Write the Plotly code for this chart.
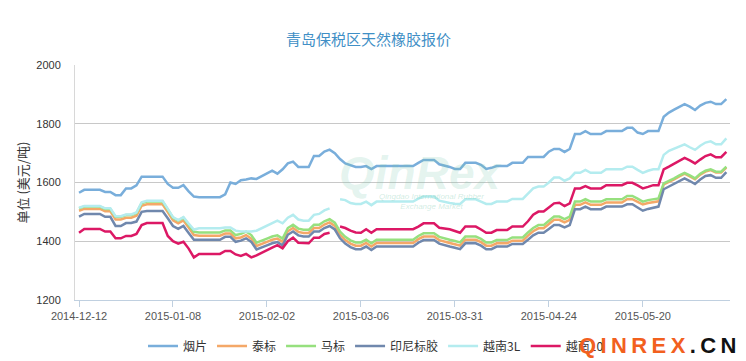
import plotly.graph_objects as go

# ---------------- data ----------------
tick_labels = ["2014-12-12", "2015-01-08", "2015-02-02", "2015-03-06",
               "2015-03-31", "2015-04-24", "2015-05-20"]
tick_step = 18  # categories between labelled ticks

series_names = ["烟片", "泰标", "马标", "印尼标胶", "越南3L", "越南10"]

yanpian = [1565, 1575, 1575, 1575, 1575, 1568, 1568, 1557, 1557, 1580,
           1580, 1590, 1620, 1620, 1620, 1620, 1620, 1595, 1582, 1582,
           1591, 1570, 1552, 1550, 1550, 1550, 1550, 1550, 1560, 1600,
           1595, 1608, 1610, 1614, 1612, 1622, 1632, 1640, 1630, 1645,
           1665, 1671, 1653, 1653, 1653, 1690, 1690, 1705, 1712, 1700,
           1680, 1665, 1658, 1653, 1653, 1656, 1646, 1656, 1656, 1656,
           1656, 1656, 1656, 1656, 1656, 1667, 1677, 1677, 1677, 1662,
           1658, 1653, 1646, 1646, 1667, 1667, 1667, 1660, 1646, 1650,
           1656, 1656, 1656, 1667, 1667, 1667, 1687, 1687, 1687, 1687,
           1705, 1714, 1714, 1704, 1714, 1765, 1765, 1775, 1765, 1765,
           1765, 1775, 1775, 1775, 1775, 1786, 1786, 1770, 1765, 1775,
           1775, 1775, 1824, 1838, 1848, 1858, 1867, 1858, 1847, 1862,
           1871, 1875, 1867, 1867, 1884]

taibiao = [1504, 1510, 1510, 1510, 1510, 1502, 1502, 1474, 1474, 1480,
           1480, 1487, 1521, 1526, 1526, 1526, 1526, 1499, 1471, 1461,
           1471, 1447, 1421, 1419, 1419, 1419, 1419, 1419, 1426, 1426,
           1410, 1413, 1421, 1409, 1384, 1390, 1398, 1405, 1409, 1398,
           1434, 1445, 1432, 1428, 1428, 1445, 1445, 1457, 1464, 1452,
           1422, 1404, 1392, 1385, 1385, 1394, 1382, 1394, 1394, 1394,
           1394, 1394, 1394, 1394, 1394, 1407, 1416, 1416, 1416, 1404,
           1398, 1394, 1390, 1385, 1405, 1405, 1405, 1397, 1385, 1385,
           1393, 1393, 1393, 1402, 1402, 1402, 1419, 1434, 1444, 1444,
           1459, 1473, 1473, 1464, 1473, 1524, 1524, 1532, 1524, 1524,
           1524, 1532, 1532, 1532, 1532, 1543, 1543, 1534, 1525, 1530,
           1533, 1536, 1594, 1602, 1611, 1621, 1630, 1621, 1611, 1627,
           1637, 1642, 1634, 1634, 1651]

mabiao = [1512, 1518, 1518, 1518, 1518, 1510, 1510, 1483, 1483, 1489,
          1489, 1496, 1530, 1535, 1535, 1535, 1535, 1508, 1480, 1470,
          1480, 1456, 1432, 1430, 1430, 1430, 1430, 1430, 1437, 1437,
          1421, 1425, 1433, 1421, 1395, 1401, 1409, 1416, 1420, 1409,
          1445, 1456, 1443, 1439, 1439, 1456, 1456, 1468, 1475, 1463,
          1433, 1415, 1403, 1396, 1396, 1405, 1393, 1405, 1405, 1405,
          1405, 1405, 1405, 1405, 1405, 1418, 1427, 1427, 1427, 1415,
          1409, 1405, 1401, 1396, 1416, 1416, 1416, 1408, 1396, 1396,
          1404, 1404, 1404, 1413, 1413, 1413, 1430, 1445, 1455, 1455,
          1470, 1484, 1484, 1475, 1484, 1535, 1535, 1543, 1535, 1535,
          1535, 1543, 1543, 1543, 1543, 1554, 1554, 1545, 1535, 1540,
          1543, 1546, 1597, 1605, 1614, 1624, 1633, 1624, 1614, 1630,
          1640, 1645, 1637, 1637, 1654]

yinni = [1484, 1493, 1493, 1493, 1493, 1483, 1483, 1452, 1452, 1462,
         1462, 1467, 1500, 1503, 1503, 1503, 1503, 1478, 1452, 1442,
         1452, 1428, 1405, 1405, 1405, 1405, 1405, 1405, 1415, 1415,
         1398, 1402, 1410, 1398, 1372, 1378, 1386, 1393, 1397, 1386,
         1422, 1433, 1420, 1416, 1416, 1433, 1433, 1445, 1452, 1440,
         1410, 1392, 1380, 1373, 1373, 1382, 1370, 1382, 1382, 1382,
         1382, 1382, 1382, 1382, 1382, 1395, 1404, 1404, 1404, 1392,
         1386, 1382, 1378, 1373, 1393, 1393, 1393, 1385, 1373, 1373,
         1382, 1382, 1382, 1391, 1391, 1391, 1405, 1420, 1429, 1429,
         1442, 1455, 1455, 1447, 1455, 1509, 1509, 1518, 1509, 1509,
         1509, 1518, 1518, 1518, 1518, 1526, 1526, 1515, 1504, 1510,
         1515, 1518, 1577, 1586, 1595, 1605, 1614, 1605, 1595, 1610,
         1622, 1625, 1616, 1616, 1635]

yuenan3l = [1514, 1520, 1520, 1520, 1520, 1512, 1512, 1485, 1485, 1491,
            1491, 1498, 1533, 1538, 1538, 1538, 1538, 1510, 1482, 1472,
            1482, 1460, 1440, 1444, 1444, 1444, 1444, 1444, 1447, 1447,
            1436, 1433, 1433, 1433, 1436, 1444, 1452, 1461, 1470, 1461,
            1480, 1490, 1474, 1470, 1470, 1490, 1493, 1505, 1512, None,
            1543, 1540, 1530, 1527, 1527, 1535, 1523, 1535, 1535, 1535,
            1535, 1535, 1535, 1535, 1535, 1545, 1552, 1552, 1552, 1538,
            1533, 1530, 1528, 1527, 1543, 1543, 1543, 1535, 1527, 1527,
            1535, 1535, 1535, 1544, 1544, 1544, 1562, 1580, 1586, 1586,
            1600, 1617, 1617, 1606, 1614, 1633, 1633, 1643, 1633, 1633,
            1633, 1645, 1645, 1645, 1645, 1654, 1654, 1643, 1633, 1640,
            1645, 1645, 1694, 1708, 1716, 1724, 1730, 1720, 1711, 1725,
            1736, 1740, 1730, 1730, 1750]

yuenan10 = [1429, 1442, 1442, 1442, 1442, 1433, 1433, 1410, 1410, 1418,
            1418, 1425, 1455, 1462, 1462, 1462, 1462, 1418, 1400, 1392,
            1398, 1375, 1345, 1357, 1357, 1357, 1357, 1357, 1367, 1367,
            1355, 1350, 1357, 1345, 1352, 1360, 1368, 1378, 1387, 1376,
            1400, 1412, 1395, 1393, 1393, 1412, 1412, 1425, 1429, None,
            1450, 1445, 1436, 1430, 1429, 1441, 1429, 1441, 1441, 1441,
            1441, 1441, 1441, 1441, 1441, 1450, 1461, 1461, 1461, 1446,
            1443, 1441, 1435, 1429, 1450, 1450, 1450, 1440, 1429, 1429,
            1438, 1438, 1438, 1450, 1450, 1450, 1468, 1490, 1501, 1501,
            1515, 1529, 1531, 1520, 1529, 1580, 1580, 1588, 1580, 1580,
            1580, 1591, 1591, 1591, 1591, 1599, 1599, 1590, 1580, 1585,
            1591, 1591, 1645, 1654, 1664, 1674, 1684, 1675, 1665, 1678,
            1690, 1696, 1686, 1686, 1704]

y_ticks = [1200, 1400, 1600, 1800, 2000]

# ---------------- figure ----------------
colors = ["#79aedb", "#f4a868", "#96e07e", "#7088ad", "#b4ecef", "#dc1865"]
all_series = [yanpian, taibiao, mabiao, yinni, yuenan3l, yuenan10]
x = list(range(len(yanpian)))

cjk = "Noto Sans CJK SC, Microsoft YaHei, sans-serif"
latin = "Liberation Sans, Arial, sans-serif"

fig = go.Figure()
for name, vals, col in zip(series_names, all_series, colors):
    fig.add_trace(go.Scatter(
        x=x, y=vals, name=name, mode="lines",
        line=dict(color=col, width=2.5, shape="linear"),
        connectgaps=False,
    ))

# faint centre watermark
fig.add_annotation(text="<b><i>QinRex</i></b>", xref="paper", yref="paper",
                   x=0.528, y=0.54, showarrow=False,
                   font=dict(family=latin, size=46, color="rgba(120,200,170,0.20)"))
fig.add_annotation(text="<i>Qingdao International Rubber<br>Exchange Market</i>",
                   xref="paper", yref="paper", x=0.545, y=0.42, showarrow=False,
                   font=dict(family=latin, size=8, color="rgba(120,200,170,0.35)"))

# y-axis title
fig.add_annotation(text="单位 (美元/吨)", xref="paper", yref="paper",
                   x=(22 - 75) / 655, y=0.5, textangle=-90, showarrow=False,
                   xanchor="center", yanchor="middle",
                   font=dict(family=cjk, size=13, color="#333333"))

# bottom-right brand watermark
fig.add_annotation(
    text="<b><span style='color:#f2601e'>Q\u2009I\u2009N\u2009R\u2009E\u2009X</span>"
         "<span style='color:#111111'>\u2009.\u2009C\u2009N</span></b>",
    xref="paper", yref="paper", x=(657 - 75) / 655, y=(300 - 345) / 235,
    xanchor="center", yanchor="middle", showarrow=False,
    font=dict(family="Liberation Sans, Arial", size=22))

fig.update_layout(
    width=746, height=361,
    paper_bgcolor="white", plot_bgcolor="white",
    margin=dict(l=75, r=16, t=65, b=61),
    title=dict(text="青岛保税区天然橡胶报价", x=0.494, xanchor="center",
               y=1 - 40 / 361, yanchor="middle",
               font=dict(family=cjk, size=15, color="#3f8fc6")),
    showlegend=True,
    legend=dict(orientation="h", xref="container", yref="container",
                x=143 / 746, xanchor="left", y=1 - 346 / 361, yanchor="middle",
                font=dict(family=cjk, size=12, color="#333333"),
                itemwidth=30, bgcolor="rgba(0,0,0,0)"),
    xaxis=dict(
        range=[-0.77, len(yanpian) - 0.3],
        tickmode="array",
        tickvals=[i * tick_step for i in range(len(tick_labels))],
        ticktext=tick_labels,
        ticks="outside", ticklen=6, tickcolor="#c0d0e0",
        showgrid=False, zeroline=False,
        showline=True, linecolor="#c0d0e0", linewidth=1,
        tickfont=dict(family=latin, size=11, color="#555555"),
        automargin=False,
    ),
    yaxis=dict(
        range=[1200, 2000],
        tickmode="array", tickvals=y_ticks,
        showgrid=True, gridcolor="#c8c8c8", gridwidth=1,
        zeroline=False,
        showline=True, linecolor="#d8d8d8", linewidth=1,
        ticks="", ticklabelstandoff=11,
        tickfont=dict(family=latin, size=11, color="#333333"),
        automargin=False,
    ),
)

fig.write_html(
    "out.html",
    config={"displayModeBar": False},
    post_script="document.body.style.margin='0';document.body.style.overflow='hidden';",
)
